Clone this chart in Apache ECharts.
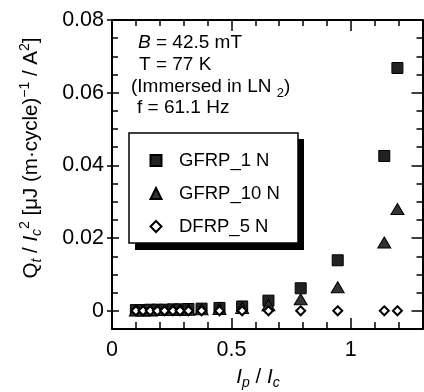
<!DOCTYPE html>
<html>
<head>
<meta charset="utf-8">
<script src="https://cdn.jsdelivr.net/npm/echarts@6/dist/echarts.min.js"></script>
<style>
  html, body { margin: 0; padding: 0; background: #fff; }
  #chart { width: 424px; height: 392px; }
</style>
</head>
<body>
<div id="chart"></div>
<script>
// Ip / Ic values of the measured points
const ipOverIc = [0.1, 0.13, 0.16, 0.19, 0.22, 0.255, 0.285, 0.32, 0.375, 0.45, 0.545, 0.655, 0.79, 0.945, 1.14, 1.195];
// Qt / Ic^2 for each sample
const gfrp1N  = [0.0002, 0.0002, 0.0003, 0.0003, 0.0003, 0.0004, 0.0004, 0.0005, 0.0006, 0.0008, 0.0012, 0.0028, 0.0062, 0.0139, 0.0426, 0.0668];
const gfrp10N = [0.0001, 0.0001, 0.0001, 0.0002, 0.0002, 0.0002, 0.0003, 0.0003, 0.0004, 0.0005, 0.0008, 0.0015, 0.0032, 0.0065, 0.0188, 0.0280];
const dfrp5N  = [0, 0, 0, 0, 0, 0, 0, 0, 0, 0, 0, 0, 0, 0, 0, 0];
const seriesNames = ['GFRP_1 N', 'GFRP_10 N', 'DFRP_5 N'];

const xMajorTicks = [0, 0.5, 1];
const xTickLabels = ['0', '0.5', '1'];
const yMajorTicks = [0, 0.02, 0.04, 0.06, 0.08];
const yTickLabels = ['0', '0.02', '0.04', '0.06', '0.08'];

const FONT = '"Liberation Sans", Arial, sans-serif';

const rich = {
  n:   { fontSize: 19, fontFamily: FONT, color: '#000', lineHeight: 26, verticalAlign: 'middle' },
  i:   { fontSize: 19, fontFamily: FONT, color: '#000', lineHeight: 26, verticalAlign: 'middle', fontStyle: 'italic' },
  sb:  { fontSize: 13, fontFamily: FONT, color: '#000', lineHeight: 13, height: 13, verticalAlign: 'bottom' },
  sbi: { fontSize: 13, fontFamily: FONT, color: '#000', lineHeight: 13, height: 13, verticalAlign: 'bottom', fontStyle: 'italic' },
  sp:  { fontSize: 13, fontFamily: FONT, color: '#000', lineHeight: 13, height: 13, verticalAlign: 'top' }
};
// slightly larger set for the axis titles
const richTitle = {
  n:   Object.assign({}, rich.n, { fontSize: 20.5 }),
  i:   Object.assign({}, rich.i, { fontSize: 20.5 }),
  sbi: Object.assign({}, rich.sbi, { fontSize: 14, height: 14, lineHeight: 14 }),
  sp:  Object.assign({}, rich.sp, { fontSize: 14, height: 14, lineHeight: 14 })
};

const infoLines = [
  '{i|B}{n| = 42.5 mT}',
  '{n|T = 77 K}',
  '{n|(Immersed in LN }{sb|2}{n|)}',
  '{n|f = 61.1 Hz}'
];
const xTitle = '{i|I}{sbi|p}{n| / }{i|I}{sbi|c}';
const yTitle = '{n|Q}{sbi|t}{n| / }{i|I}{sbi|c}{sp|2}{n| [μJ (m·cycle)}{sp|−1}{n| / A}{sp|2}{n|]}';

function labelFor(ticks, labels) {
  return v => {
    const k = ticks.findIndex(t => Math.abs(t - v) < 1e-9);
    return k < 0 ? '' : labels[k];
  };
}

const chart = echarts.init(document.getElementById('chart'));

const frameLine = { show: true, onZero: false, lineStyle: { color: '#000', width: 2 } };
const noLine = { show: false, onZero: false };
const tickLine = { color: '#000', width: 1.5 };

const xBase = { type: 'value', min: 0, max: 1.3, splitLine: { show: false } };
const yBase = { type: 'value', min: -0.005, max: 0.08, splitLine: { show: false } };

const option = {
  animation: false,
  grid: { left: 112, top: 20, right: 1.5, bottom: 63, outerBoundsMode: 'none' },
  xAxis: [
    Object.assign({}, xBase, {
      position: 'bottom',
      axisLine: frameLine,
      axisTick: { inside: true, length: 11, lineStyle: tickLine, customValues: xMajorTicks },
      axisLabel: {
        customValues: xMajorTicks, formatter: labelFor(xMajorTicks, xTickLabels),
        color: '#000', fontSize: 21.5, fontFamily: FONT, margin: 10
      }
    }),
    Object.assign({}, xBase, {
      position: 'bottom', interval: 0.1,
      axisLine: noLine,
      axisTick: { inside: true, length: 7, lineStyle: tickLine },
      axisLabel: { show: false }
    }),
    Object.assign({}, xBase, {
      position: 'top',
      axisLine: frameLine,
      axisTick: { inside: true, length: 11, lineStyle: tickLine, customValues: xMajorTicks },
      axisLabel: { show: false }
    }),
    Object.assign({}, xBase, {
      position: 'top', interval: 0.1,
      axisLine: noLine,
      axisTick: { inside: true, length: 6, lineStyle: tickLine },
      axisLabel: { show: false }
    })
  ],
  yAxis: [
    Object.assign({}, yBase, {
      position: 'left',
      axisLine: frameLine,
      axisTick: { inside: true, length: 7, lineStyle: tickLine, customValues: yMajorTicks },
      axisLabel: {
        customValues: yMajorTicks, formatter: labelFor(yMajorTicks, yTickLabels),
        color: '#000', fontSize: 21.5, fontFamily: FONT, margin: 8
      }
    }),
    Object.assign({}, yBase, {
      position: 'left', interval: 0.005,
      axisLine: noLine,
      axisTick: { inside: true, length: 6, lineStyle: tickLine },
      axisLabel: { show: false }
    }),
    Object.assign({}, yBase, {
      position: 'left',
      axisLine: noLine,
      axisTick: { inside: false, length: 5, lineStyle: tickLine, customValues: yMajorTicks },
      axisLabel: { show: false }
    }),
    Object.assign({}, yBase, {
      position: 'right',
      axisLine: frameLine,
      axisTick: { inside: true, length: 11, lineStyle: tickLine, customValues: yMajorTicks },
      axisLabel: { show: false }
    }),
    Object.assign({}, yBase, {
      position: 'right', interval: 0.005,
      axisLine: noLine,
      axisTick: { inside: true, length: 6, lineStyle: tickLine },
      axisLabel: { show: false }
    })
  ],
  legend: {
    orient: 'vertical',
    left: 129,
    top: 133,
    data: seriesNames,
    itemWidth: 11,
    itemHeight: 11,
    itemGap: 14,
    padding: [18, 19, 8, 20.5],
    backgroundColor: 'transparent',
    borderWidth: 0,
    selectedMode: false,
    formatter: name => '{t|' + name + '}',
    textStyle: {
      fontSize: 18.5, fontFamily: FONT, color: '#000',
      rich: { t: { fontSize: 18.5, fontFamily: FONT, color: '#000', lineHeight: 20, padding: [0, 0, 0, 12.5] } }
    }
  },
  graphic: [
    // legend frame with its offset drop shadow
    { type: 'rect', z: 1, shape: { x: 135, y: 139, width: 169, height: 111 }, style: { fill: '#000' } },
    { type: 'rect', z: 2, shape: { x: 129, y: 133, width: 169, height: 110 }, style: { fill: '#fff', stroke: '#000', lineWidth: 1.5 } },
    { type: 'text', x: 138, y: 43, style: { text: infoLines[0], rich: rich, align: 'left', verticalAlign: 'middle' } },
    { type: 'text', x: 139, y: 65, style: { text: infoLines[1], rich: rich, align: 'left', verticalAlign: 'middle' } },
    { type: 'text', x: 131, y: 87, style: { text: infoLines[2], rich: rich, align: 'left', verticalAlign: 'middle' } },
    { type: 'text', x: 137, y: 108, style: { text: infoLines[3], rich: rich, align: 'left', verticalAlign: 'middle' } },
    { type: 'text', x: 258, y: 377, style: { text: xTitle, rich: richTitle, align: 'center', verticalAlign: 'middle' } },
    { type: 'text', x: 31, y: 158, rotation: Math.PI / 2, style: { text: yTitle, rich: richTitle, align: 'center', verticalAlign: 'middle' } }
  ],
  series: [
    {
      name: seriesNames[0], type: 'scatter', xAxisIndex: 0, yAxisIndex: 0,
      symbol: 'rect', symbolSize: 11,
      itemStyle: { color: '#222', borderColor: '#000', borderWidth: 1, opacity: 1 },
      data: ipOverIc.map((x, i) => [x, gfrp1N[i]])
    },
    {
      name: seriesNames[1], type: 'scatter', xAxisIndex: 0, yAxisIndex: 0,
      symbol: 'triangle', symbolSize: [13, 11],
      itemStyle: { color: '#333', borderColor: '#000', borderWidth: 1, opacity: 1 },
      data: ipOverIc.map((x, i) => [x, gfrp10N[i]])
    },
    {
      name: seriesNames[2], type: 'scatter', xAxisIndex: 0, yAxisIndex: 0,
      symbol: 'diamond', symbolSize: 9,
      itemStyle: { color: '#fff', borderColor: '#000', borderWidth: 2, opacity: 1 },
      data: ipOverIc.map((x, i) => [x, dfrp5N[i]])
    }
  ]
};

chart.setOption(option);
</script>
</body>
</html>
